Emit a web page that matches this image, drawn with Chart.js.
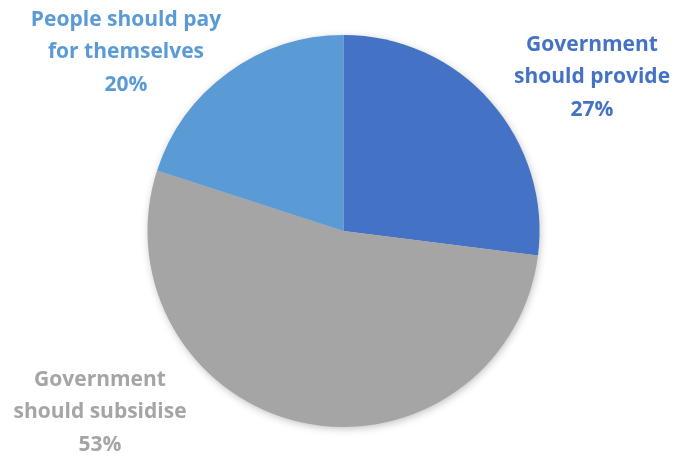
<!DOCTYPE html>
<html>
<head>
<meta charset="utf-8">
<script src="https://cdn.jsdelivr.net/npm/chart.js@4/dist/chart.umd.min.js"></script>
<style>
  html, body { margin: 0; padding: 0; background: #fff; }
  #wrap { width: 680px; height: 459px; position: relative; }
</style>
</head>
<body>
<div id="wrap"><canvas id="pie"></canvas></div>
<script>
// answers and shares (%)
var categories = [
  ['Government', 'should provide'],
  ['Government', 'should subsidise'],
  ['People should pay', 'for themselves']
];
var shares = [27, 53, 20];
var sliceColors = ['#4472C4', '#A5A5A5', '#5B9BD5'];
var textColors = ['#4472C4', '#A5A5A5', '#5B9BD5'];
// label block centres (first line), in canvas px
var labelAt = [[592, 45], [100, 380], [126, 20]];

var FONT = '"Open Sans", "Noto Sans", sans-serif';

// soft shadow under the whole pie, drawn once before the slices
var pieShadow = {
  id: 'pieShadow',
  beforeDatasetsDraw: function (chart) {
    var arc = chart.getDatasetMeta(0).data[0];
    if (!arc) return;
    var ctx = chart.ctx;
    ctx.save();
    ctx.shadowColor = 'rgba(0,0,0,0.28)';
    ctx.shadowBlur = 9;
    ctx.shadowOffsetX = 1;
    ctx.shadowOffsetY = 2;
    ctx.fillStyle = '#ccc';
    ctx.beginPath();
    ctx.arc(arc.x, arc.y, arc.outerRadius - 1, 0, Math.PI * 2);
    ctx.fill();
    ctx.restore();
  }
};

// category name + percentage beside each slice
var sliceLabels = {
  id: 'sliceLabels',
  afterDatasetsDraw: function (chart) {
    var ctx = chart.ctx;
    ctx.save();
    ctx.font = 'bold 21px ' + FONT;
    ctx.textAlign = 'center';
    ctx.textBaseline = 'middle';
    shares.forEach(function (v, i) {
      var lines = categories[i].concat([v + '%']);
      ctx.fillStyle = textColors[i];
      lines.forEach(function (t, j) {
        ctx.fillText(t, labelAt[i][0], labelAt[i][1] + j * 32.5);
      });
    });
    ctx.restore();
  }
};

new Chart(document.getElementById('pie'), {
  type: 'pie',
  data: {
    labels: categories.map(function (c) { return c.join(' '); }),
    datasets: [{
      data: shares,
      backgroundColor: sliceColors,
      borderWidth: 0,
      hoverOffset: 0
    }]
  },
  options: {
    responsive: true,
    maintainAspectRatio: false,
    animation: false,
    layout: { padding: { left: 147, right: 140, top: 35, bottom: 32 } },
    plugins: {
      legend: { display: false },
      tooltip: { enabled: false }
    }
  },
  plugins: [pieShadow, sliceLabels]
});
</script>
</body>
</html>
